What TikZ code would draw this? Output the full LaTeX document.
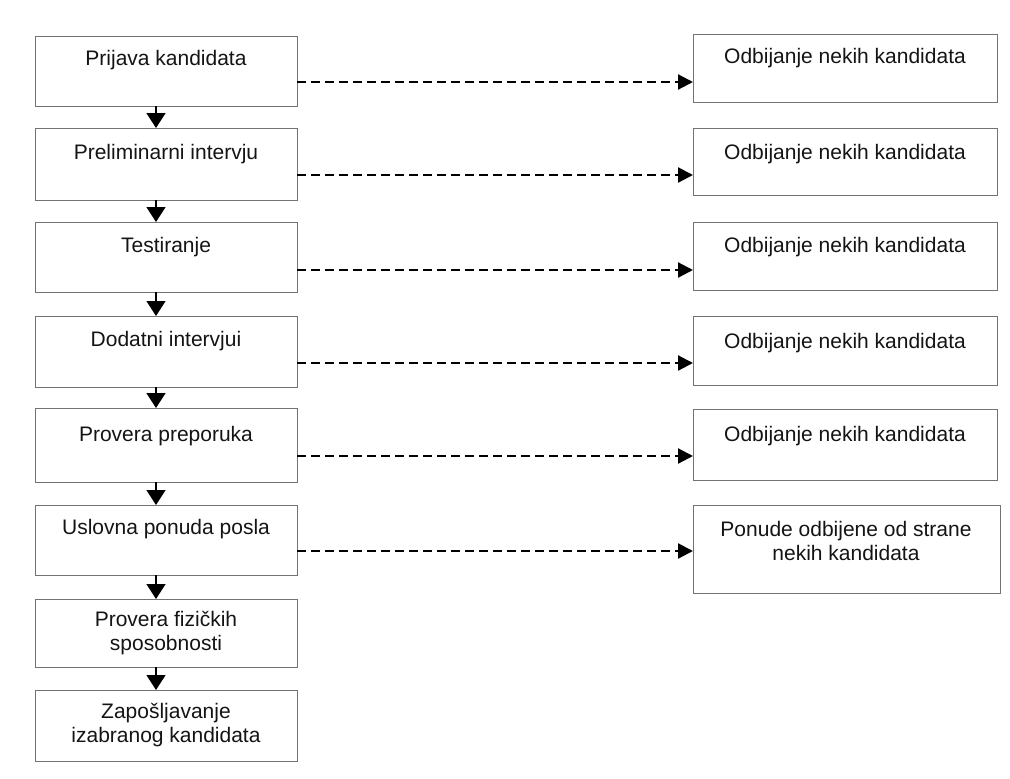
\documentclass[tikz,border=0pt]{standalone}
\usepackage{fontspec}
\setmainfont{Liberation Sans}
\usetikzlibrary{arrows.meta,calc}
\begin{document}
\begin{tikzpicture}[x=1pt,y=-1pt,
  stage/.style={draw=black!55,line width=1pt,fill=none,inner sep=0pt,outer sep=0pt,anchor=north west},
  lbl/.style={text=black!92,inner sep=0pt,align=center,font=\fontsize{21}{23.5}\selectfont},
  nextstep/.style={draw=black,line width=1.5pt,-{Triangle[length=15pt,width=19pt]}},
  reject/.style={draw=black,line width=2.2pt,dash pattern=on 9pt off 5pt,-{Triangle[length=15pt,width=15pt]}}]
\useasboundingbox (0,0) rectangle (1010,779);

% selection stages (left column)
\node[stage,minimum width=262pt,minimum height=70pt] (L1) at (35,36) {};
\node[stage,minimum width=262pt,minimum height=72pt] (L2) at (35,128) {};
\node[stage,minimum width=262pt,minimum height=70pt] (L3) at (35,222) {};
\node[stage,minimum width=262pt,minimum height=71pt] (L4) at (35,316) {};
\node[stage,minimum width=262pt,minimum height=74pt] (L5) at (35,408) {};
\node[stage,minimum width=262pt,minimum height=70pt] (L6) at (35,505) {};
\node[stage,minimum width=262pt,minimum height=68pt] (L7) at (35,599) {};
\node[stage,minimum width=262pt,minimum height=71pt] (L8) at (35,690) {};

\node[lbl] (tL1) at (166,60) {Prijava kandidata};
\node[lbl] (tL2) at (166,154) {Preliminarni intervju};
\node[lbl] (tL3) at (166,247) {Testiranje};
\node[lbl] (tL4) at (166,341) {Dodatni intervjui};
\node[lbl] (tL5) at (166,436) {Provera preporuka};
\node[lbl] (tL6) at (166,529) {Uslovna ponuda posla};
\node[lbl] (tL7) at (166,633) {Provera fizičkih\\sposobnosti};
\node[lbl] (tL8) at (166,725) {Zapošljavanje\\izabranog kandidata};

% rejection outcomes (right column)
\node[stage,minimum width=304pt,minimum height=68pt] (R1) at (693,34) {};
\node[stage,minimum width=304pt,minimum height=67pt] (R2) at (693,128) {};
\node[stage,minimum width=304pt,minimum height=68pt] (R3) at (693,222) {};
\node[stage,minimum width=304pt,minimum height=69pt] (R4) at (693,316) {};
\node[stage,minimum width=304pt,minimum height=71pt] (R5) at (693,409) {};
\node[stage,minimum width=307pt,minimum height=88pt] (R6) at (693,505) {};

\node[lbl] (tR1) at (845,58) {Odbijanje nekih kandidata};
\node[lbl] (tR2) at (845,154) {Odbijanje nekih kandidata};
\node[lbl] (tR3) at (845,247) {Odbijanje nekih kandidata};
\node[lbl] (tR4) at (845,343) {Odbijanje nekih kandidata};
\node[lbl] (tR5) at (845,436) {Odbijanje nekih kandidata};
\node[lbl] (tR6) at (846,541) {Ponude odbijene od strane\\nekih kandidata};

% flow down the stages
\foreach \a/\b in {L1/L2,L2/L3,L3/L4,L4/L5,L5/L6,L6/L7,L7/L8}{
  \draw[nextstep] ($(\a.south west)+(121,0)$) -- ($(\b.north west)+(121,0)$);
}

% rejections after each stage
\coordinate (s1) at ($(L1.north east)+(0,46)$);
\coordinate (s2) at ($(L2.north east)+(0,47)$);
\coordinate (s3) at ($(L3.north east)+(0,48)$);
\coordinate (s4) at ($(L4.north east)+(0,47)$);
\coordinate (s5) at ($(L5.north east)+(0,48)$);
\coordinate (s6) at ($(L6.north east)+(0,46)$);
\draw[reject] (s1) -- (s1 -| R1.west);
\draw[reject] (s2) -- (s2 -| R2.west);
\draw[reject] (s3) -- (s3 -| R3.west);
\draw[reject] (s4) -- (s4 -| R4.west);
\draw[reject] (s5) -- (s5 -| R5.west);
\draw[reject] (s6) -- (s6 -| R6.west);
\end{tikzpicture}
\end{document}
